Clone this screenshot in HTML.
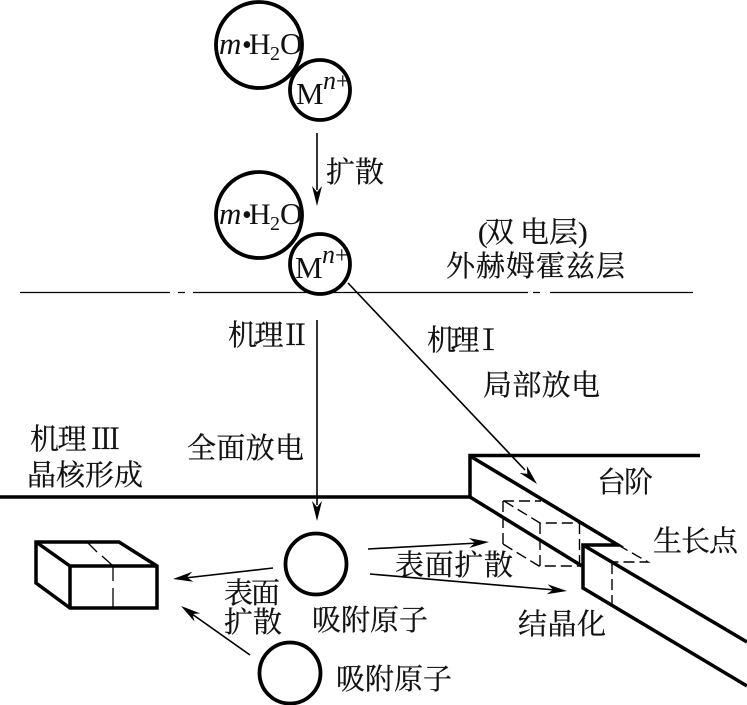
<!DOCTYPE html>
<html><head><meta charset="utf-8">
<style>
html,body{margin:0;padding:0;background:#fff}
svg{display:block}
.c{font-family:"Liberation Serif","Noto Serif CJK SC",serif;font-size:29px;fill:#111;stroke:#111;stroke-width:.25px}
.l{font-family:"Liberation Serif",serif;fill:#111}
.k{stroke:#000;fill:none}
</style></head><body>
<svg width="747" height="705" viewBox="0 0 747 705" xmlns="http://www.w3.org/2000/svg">
<defs>
<g id="ah"><path d="M0 0L-20 -5L-14 0L-20 5Z" fill="#000"/></g>
</defs>
<!-- circles top -->
<g class="k" stroke-width="3.8">
<circle cx="259" cy="45" r="43"/>
<circle cx="320" cy="90" r="30" fill="#fff"/>
<circle cx="259" cy="215" r="43"/>
</g>
<!-- double layer line -->
<g class="k" stroke-width="1.3">
<path d="M20 292.500H170M178 292.500H185M193 292.500H528M533 292.500H540M550 292.500H693"/>
</g>
<circle cx="320" cy="264" r="30" fill="#fff" stroke="#000" stroke-width="3.8"/>
<!-- arrows -->
<g class="k" stroke-width="1.6">
<path d="M317 133V190"/>
<path d="M317 320V505"/>
<path d="M348 283L525 470"/>
<path d="M368 549L478 543"/>
<path d="M370 574L555 590"/>
<path d="M273 568L185 578"/>
<path d="M250 655L192 614"/>
</g>
<use href="#ah" transform="translate(317,206) rotate(90)"/>
<use href="#ah" transform="translate(317,521) rotate(90)"/>
<use href="#ah" transform="translate(537,484) rotate(46.500)"/>
<use href="#ah" transform="translate(489,542) rotate(-3)"/>
<use href="#ah" transform="translate(567,591) rotate(5)"/>
<use href="#ah" transform="translate(173,579) rotate(173.500)"/>
<use href="#ah" transform="translate(181,606) rotate(215)"/>
<!-- step -->
<g class="k" stroke-width="3.500" stroke-linejoin="miter">
<path d="M700 455.500H470V497H0"/>
<path d="M470 456L618 545H583V588L747 686"/>
<path d="M470 497L582 566"/>
<path d="M583 545L747 642"/>
</g>
<!-- dashed -->
<g class="k" stroke-width="1.400" stroke-dasharray="11 5">
<path d="M503 501H541"/>
<path d="M503 501V544"/>
<path d="M503 544L539 566H580"/>
<path d="M504 501L540 523H579"/>
<path d="M540 523V566"/>
<path d="M579.500 523V566"/>
<path d="M618 545L648 562H613"/>
<path d="M612 563V604"/>
</g>
<!-- box -->
<g class="k" stroke-width="3.500" stroke-linejoin="miter">
<path d="M36 542H119L157 566V608H70L36 583Z"/>
<path d="M36 542L70 566H157"/>
<path d="M70 566V608"/>
</g>
<g class="k" stroke-width="1.300">
<path d="M88 543L97 552M102 556L112 565M113 567V581M113 588V607"/>
</g>
<!-- circles bottom -->
<g class="k" stroke-width="3.800">
<circle cx="316" cy="564" r="30.500"/>
<circle cx="290" cy="673" r="30.500"/>
</g>
<!-- formula labels -->
<text class="l" x="219" y="54" font-size="31" font-style="italic">m</text>
<text class="l" x="242" y="54" font-size="28">•</text>
<text class="l" x="249" y="54" font-size="30">H</text>
<text class="l" x="270" y="60" font-size="20">2</text>
<text class="l" x="280" y="54" font-size="31">O</text>
<text class="l" x="296" y="104" font-size="31">M</text>
<text class="l" x="323" y="89" font-size="26" font-style="italic">n</text>
<text class="l" x="336" y="89" font-size="24">+</text>
<text class="l" x="219" y="224" font-size="31" font-style="italic">m</text>
<text class="l" x="242" y="224" font-size="28">•</text>
<text class="l" x="249" y="224" font-size="30">H</text>
<text class="l" x="270" y="230" font-size="20">2</text>
<text class="l" x="280" y="224" font-size="31">O</text>
<text class="l" x="295" y="278" font-size="31">M</text>
<text class="l" x="322" y="263" font-size="26" font-style="italic">n</text>
<text class="l" x="335" y="263" font-size="24">+</text>
<!-- Chinese labels -->
<text class="c" x="326" y="182" textLength="58">扩散</text>
<text class="c" x="478 485 520 549 578" y="242">(双电层)</text>
<text class="c" x="446" y="276" textLength="179">外赫姆霍兹层</text>
<text class="c" x="228" y="345" textLength="82">机理Ⅱ</text>
<text class="c" x="427" y="350" textLength="76">机理Ⅰ</text>
<text class="c" x="483" y="395" textLength="117">局部放电</text>
<text class="c" x="30" y="449" textLength="90">机理 Ⅲ</text>
<text class="c" x="27" y="485" textLength="116">晶核形成</text>
<text class="c" x="187" y="458" textLength="117">全面放电</text>
<text class="c" x="597" y="492" textLength="56">台阶</text>
<text class="c" x="653" y="551" textLength="85">生长点</text>
<text class="c" x="395" y="575" textLength="118">表面扩散</text>
<text class="c" x="518" y="634" textLength="88">结晶化</text>
<text class="c" x="312" y="630" textLength="116">吸附原子</text>
<text class="c" x="336" y="689" textLength="116">吸附原子</text>
<text class="c" x="224" y="603" textLength="56">表面</text>
<text class="c" x="224" y="632" textLength="58">扩散</text>
</svg>
</body></html>
